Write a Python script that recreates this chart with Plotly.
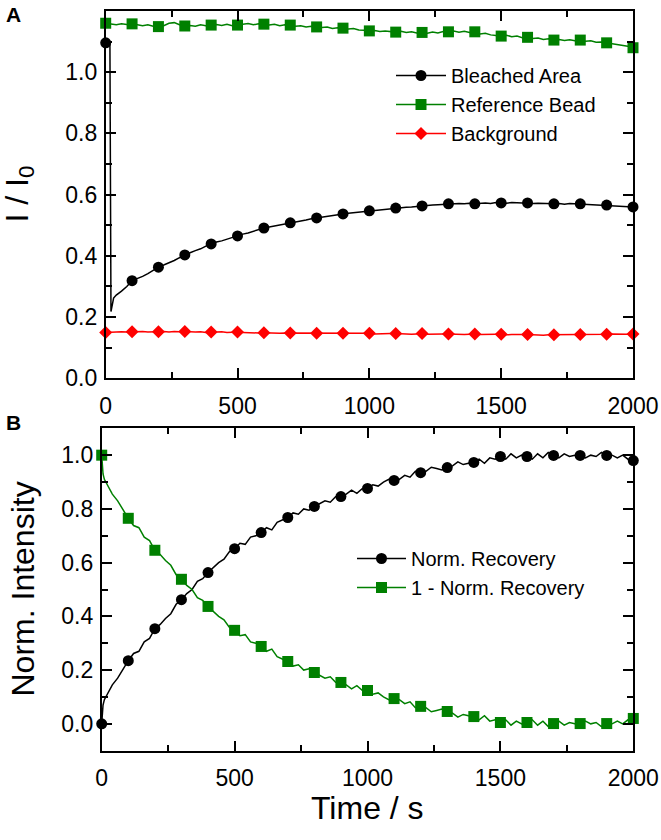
import plotly.graph_objects as go

# ---------------- data ----------------
# Panel A
time_bleach = [0, 10, 16, 20, 30] + list(range(40, 2001, 20))
bleached_area = [
    1.096, 1.095, 1.090, 0.218, 0.262,
    0.272, 0.285, 0.300, 0.319,
    0.325, 0.333, 0.342, 0.352, 0.363,
    0.370, 0.377, 0.385, 0.394, 0.403,
    0.410, 0.417, 0.423, 0.432, 0.439,
    0.445, 0.449, 0.455, 0.461, 0.465,
    0.471, 0.475, 0.481, 0.486, 0.491,
    0.494, 0.497, 0.501, 0.505, 0.508,
    0.511, 0.514, 0.517, 0.521, 0.524,
    0.527, 0.529, 0.532, 0.535, 0.537,
    0.539, 0.541, 0.543, 0.545, 0.547,
    0.549, 0.551, 0.552, 0.555, 0.556,
    0.557, 0.559, 0.560, 0.562, 0.563,
    0.564, 0.566, 0.567, 0.568, 0.570,
    0.569, 0.571, 0.570, 0.572, 0.570,
    0.572, 0.573, 0.571, 0.574, 0.573,
    0.572, 0.574, 0.573, 0.572, 0.573,
    0.571, 0.572, 0.571, 0.572, 0.570,
    0.571, 0.569, 0.571, 0.570, 0.570,
    0.569, 0.568, 0.568, 0.566, 0.566,
    0.565, 0.564, 0.562, 0.562, 0.560,
]

time_a = list(range(0, 2001, 20))
reference_bead = [
    1.160,
    1.157, 1.155, 1.158, 1.156, 1.158,
    1.154, 1.152, 1.155, 1.150, 1.149,
    1.152, 1.160, 1.162, 1.155, 1.151,
    1.153, 1.150, 1.155, 1.152, 1.154,
    1.156, 1.153, 1.157, 1.152, 1.154,
    1.156, 1.159, 1.155, 1.158, 1.157,
    1.154, 1.157, 1.152, 1.155, 1.154,
    1.150, 1.152, 1.148, 1.150, 1.148,
    1.146, 1.148, 1.143, 1.145, 1.144,
    1.141, 1.143, 1.138, 1.137, 1.135,
    1.136, 1.133, 1.135, 1.132, 1.131,
    1.134, 1.130, 1.132, 1.128, 1.130,
    1.127, 1.131, 1.128, 1.133, 1.132,
    1.135, 1.131, 1.134, 1.130, 1.132,
    1.125, 1.127, 1.122, 1.120, 1.118,
    1.121, 1.116, 1.118, 1.113, 1.114,
    1.110, 1.112, 1.107, 1.109, 1.105,
    1.107, 1.104, 1.106, 1.103, 1.105,
    1.101, 1.103, 1.098, 1.099, 1.096,
    1.094, 1.092, 1.089, 1.085, 1.080,
]
background = [
    0.150,
    0.151, 0.150, 0.152, 0.151, 0.152,
    0.151, 0.153, 0.151, 0.152, 0.152,
    0.153, 0.151, 0.153, 0.152, 0.153,
    0.152, 0.151, 0.152, 0.150, 0.151,
    0.150, 0.152, 0.150, 0.151, 0.151,
    0.150, 0.149, 0.150, 0.148, 0.149,
    0.148, 0.149, 0.147, 0.148, 0.148,
    0.147, 0.148, 0.146, 0.147, 0.147,
    0.146, 0.147, 0.146, 0.148, 0.147,
    0.146, 0.147, 0.146, 0.147, 0.147,
    0.145, 0.146, 0.145, 0.146, 0.146,
    0.145, 0.146, 0.144, 0.145, 0.146,
    0.144, 0.145, 0.144, 0.145, 0.145,
    0.144, 0.145, 0.143, 0.144, 0.145,
    0.143, 0.144, 0.143, 0.144, 0.144,
    0.142, 0.143, 0.142, 0.143, 0.143,
    0.142, 0.143, 0.141, 0.142, 0.142,
    0.143, 0.142, 0.143, 0.142, 0.143,
    0.144, 0.143, 0.144, 0.143, 0.144,
    0.145, 0.144, 0.145, 0.144, 0.145,
]

# Panel B
time_b = [0, 5, 10] + list(range(20, 2001, 20))
norm_recovery = [
    0.000, 0.070, 0.090,
    0.110, 0.145, 0.170, 0.205, 0.235,
    0.262, 0.270, 0.305, 0.318, 0.354,
    0.370, 0.392, 0.410, 0.445, 0.462,
    0.485, 0.500, 0.530, 0.540, 0.563,
    0.580, 0.600, 0.613, 0.640, 0.652,
    0.672, 0.668, 0.695, 0.700, 0.712,
    0.730, 0.722, 0.750, 0.760, 0.768,
    0.785, 0.780, 0.800, 0.795, 0.809,
    0.820, 0.830, 0.825, 0.845, 0.846,
    0.855, 0.870, 0.858, 0.875, 0.876,
    0.890, 0.885, 0.900, 0.910, 0.906,
    0.910, 0.925, 0.918, 0.940, 0.935,
    0.940, 0.955, 0.950, 0.945, 0.954,
    0.960, 0.975, 0.965, 0.970, 0.973,
    0.985, 0.970, 0.990, 0.985, 0.995,
    0.985, 1.005, 0.990, 1.000, 0.995,
    0.985, 1.005, 0.990, 1.010, 0.999,
    0.990, 1.005, 0.995, 1.000, 0.999,
    0.990, 1.000, 0.995, 1.010, 0.999,
    1.000, 0.990, 1.000, 0.985, 0.980,
]
one_minus_recovery = [
    1.000, 0.930, 0.910,
    0.890, 0.855, 0.830, 0.795, 0.765,
    0.738, 0.730, 0.695, 0.682, 0.646,
    0.630, 0.608, 0.590, 0.555, 0.538,
    0.515, 0.500, 0.470, 0.460, 0.437,
    0.420, 0.400, 0.387, 0.360, 0.348,
    0.328, 0.332, 0.305, 0.300, 0.288,
    0.270, 0.278, 0.250, 0.240, 0.232,
    0.215, 0.220, 0.200, 0.205, 0.191,
    0.180, 0.170, 0.175, 0.155, 0.154,
    0.145, 0.130, 0.142, 0.125, 0.124,
    0.110, 0.115, 0.100, 0.090, 0.094,
    0.090, 0.075, 0.082, 0.060, 0.065,
    0.060, 0.045, 0.050, 0.055, 0.046,
    0.040, 0.025, 0.035, 0.030, 0.027,
    0.015, 0.030, 0.010, 0.015, 0.005,
    0.015, -0.005, 0.010, 0.000, 0.005,
    0.015, -0.005, 0.010, -0.010, 0.001,
    0.010, -0.005, 0.005, 0.000, 0.001,
    0.010, 0.000, 0.005, -0.010, 0.001,
    0.000, 0.010, 0.000, 0.015, 0.020,
]

marker_times = list(range(0, 2001, 100))
x_ticks = [0, 500, 1000, 1500, 2000]
ya_ticks = [0.0, 0.2, 0.4, 0.6, 0.8, 1.0, 1.2]
yb_ticks = [0.0, 0.2, 0.4, 0.6, 0.8, 1.0]

# ---------------- layout helpers ----------------
W, H = 661, 840
def fx(px):
    return px / W
def fy(py):
    return 1 - py / H

FONT = "Liberation Sans"
GREEN = "#008000"
RED = "#ff0000"

def subset(times, values):
    lookup = dict(zip(times, values))
    return [lookup[t] for t in marker_times], marker_times

fig = go.Figure()

def add_series(times, values, color, symbol, size, name, xa, ya, legend):
    fig.add_trace(go.Scatter(x=times, y=values, mode="lines",
                             line=dict(color=color, width=1.5),
                             xaxis=xa, yaxis=ya, showlegend=False,
                             hoverinfo="skip"))
    my, mx = subset(times, values)
    fig.add_trace(go.Scatter(x=mx, y=my, mode="markers",
                             marker=dict(color=color, symbol=symbol, size=size),
                             xaxis=xa, yaxis=ya, showlegend=False,
                             cliponaxis=False))
    fig.add_trace(go.Scatter(x=[None], y=[None], mode="lines+markers",
                             line=dict(color=color, width=1.5),
                             marker=dict(color=color, symbol=symbol, size=size),
                             name=name, legend=legend,
                             xaxis=xa, yaxis=ya))

add_series(time_bleach, bleached_area, "black", "circle", 11, "Bleached Area", "x", "y", "legend")
add_series(time_a, reference_bead, GREEN, "square", 11, "Reference Bead", "x", "y", "legend")
add_series(time_a, background, RED, "diamond", 10, "Background", "x", "y", "legend")
add_series(time_b, norm_recovery, "black", "circle", 11, "Norm. Recovery", "x2", "y2", "legend2")
add_series(time_b, one_minus_recovery, GREEN, "square", 11, "1 - Norm. Recovery", "x2", "y2", "legend2")

minor_style = dict(ticklen=6, ticks="inside", tickwidth=1.5, tickcolor="black")
axis_common = dict(showline=True, linecolor="black", linewidth=1.7, mirror="ticks",
                   ticks="inside", ticklen=10, tickwidth=1.5, tickcolor="black",
                   showgrid=False, zeroline=False, automargin=False,
                   tickfont=dict(family=FONT, size=23, color="black"))

fig.update_layout(
    width=W, height=H,
    margin=dict(l=0, r=0, t=0, b=0, autoexpand=False),
    paper_bgcolor="white", plot_bgcolor="white",
    font=dict(family=FONT, color="black"),
    xaxis=dict(domain=[fx(105.7), fx(633)], range=[0, 2000], anchor="y",
               tickvals=x_ticks, minor=dict(dtick=250, **minor_style),
               ticklabelstandoff=6, **axis_common),
    yaxis=dict(domain=[fy(378.3), fy(11)], range=[0, 1.2], anchor="x",
               tickvals=ya_ticks, tickformat=".1f", ticklabelstandoff=2,
               minor=dict(dtick=0.1, **minor_style), **axis_common),
    xaxis2=dict(domain=[fx(101.7), fx(633.3)], range=[0, 2000], anchor="y2",
                tickvals=x_ticks, minor=dict(dtick=250, **minor_style),
                ticklabelstandoff=6, **axis_common),
    yaxis2=dict(domain=[fy(750.7), fy(428.3)], range=[-0.1, 1.1], anchor="x2",
                tickvals=yb_ticks, tickformat=".1f", ticklabelstandoff=2,
                minor=dict(dtick=0.1, **minor_style), **axis_common),
    legend=dict(x=fx(391), y=fy(56), xanchor="left", yanchor="top",
                bgcolor="rgba(0,0,0,0)", font=dict(family=FONT, size=20),
                itemwidth=50, traceorder="normal"),
    legend2=dict(x=fx(352), y=fy(539), xanchor="left", yanchor="top",
                 bgcolor="rgba(0,0,0,0)", font=dict(family=FONT, size=20),
                 itemwidth=49, traceorder="normal"),
    annotations=[
        dict(text="<b>A</b>", x=fx(13), y=fy(14.5), xref="paper", yref="paper",
             xanchor="center", yanchor="middle",
             showarrow=False, font=dict(family=FONT, size=21)),
        dict(text="<b>B</b>", x=fx(13), y=fy(422), xref="paper", yref="paper",
             xanchor="center", yanchor="middle",
             showarrow=False, font=dict(family=FONT, size=21)),
        dict(text="I / I<sub>0</sub>", x=fx(19), y=fy(194.5), xref="paper", yref="paper",
             xanchor="center", yanchor="middle",
             showarrow=False, textangle=-90, font=dict(family=FONT, size=32)),
        dict(text="Norm. Intensity", x=fx(22), y=fy(589.5), xref="paper", yref="paper",
             xanchor="center", yanchor="middle",
             showarrow=False, textangle=-90, font=dict(family=FONT, size=32)),
        dict(text="Time / s", x=fx(367.5), y=fy(808), xref="paper", yref="paper",
             xanchor="center", yanchor="middle",
             showarrow=False, font=dict(family=FONT, size=32)),
    ],
)

fig.write_html("out.html", config={"displayModeBar": False},
               post_script="document.body.style.margin='0px';")
